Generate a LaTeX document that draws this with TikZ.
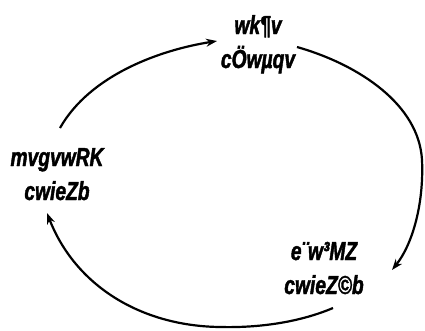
\documentclass[tikz,border=0pt]{standalone}
\usepackage{fontspec}
\setmainfont{Liberation Sans}[FakeStretch=0.74, BoldItalicFeatures={FakeBold=1.6}]
\usetikzlibrary{arrows.meta}
\begin{document}
\begin{tikzpicture}[x=1pt,y=-1pt,
  lbl/.style={font=\fontsize{26pt}{34pt}\selectfont\bfseries\itshape, align=center, inner sep=0pt},
  cyc/.style={line width=2.2pt, -{Stealth[length=11pt,width=8pt]}}]
\useasboundingbox (0,0) rectangle (425,330);
\node[lbl, anchor=base] (edu) at (258,68) {wk¶v\\cÖwµqv};
\node[lbl, anchor=base] (soc) at (57,200) {mvgvwRK\\cwieZb};
\node[lbl, anchor=base] (ind) at (324,294) {e¨w³MZ\\cwieZ©b};
\coordinate (s1) at (60,128);
\coordinate (e1) at (217,41);
\coordinate (s2) at (297,47);
\coordinate (m2) at (422,160);
\coordinate (e2) at (392,270);
\coordinate (s3) at (333,308);
\coordinate (m3) at (220,327);
\coordinate (e3) at (47,213);
\draw[cyc] (s1) .. controls (90,75) and (160,50) .. (e1);
\draw[cyc] (s2) .. controls (360,65) and (419,105) .. (m2) .. controls (424,205) and (412,245) .. (e2);
\draw[cyc] (s3) .. controls (300,322) and (260,328) .. (m3) .. controls (140,326) and (75,285) .. (e3);
\end{tikzpicture}
\end{document}
